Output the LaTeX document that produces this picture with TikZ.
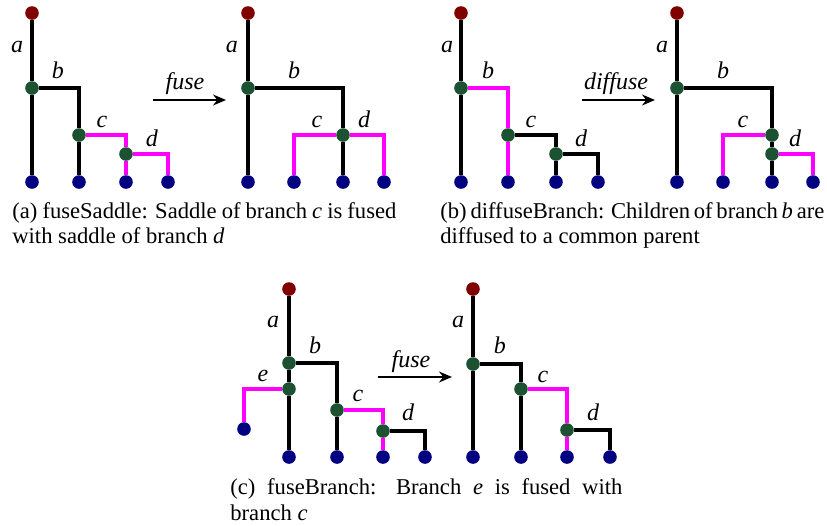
\documentclass[tikz,border=0pt]{standalone}
\usepackage{fontspec}
\setmainfont{Liberation Serif}
\usetikzlibrary{arrows.meta}
\definecolor{rootred}{RGB}{128,0,0}
\definecolor{saddlegreen}{RGB}{28,82,50}
\definecolor{leafblue}{RGB}{0,0,128}
\definecolor{hlpink}{RGB}{255,0,255}
\begin{document}
\begin{tikzpicture}[x=0.5pt,y=-0.5pt]
          \tikzstyle{every node}=[inner sep=0pt];
          \tikzstyle{root}=[shape=circle,fill=rootred,minimum size=6.8pt];
          \tikzstyle{saddle}=[shape=circle,fill=saddlegreen,minimum size=6.8pt];
          \tikzstyle{leaf}=[shape=circle,fill=leafblue,minimum size=6.8pt];
          \tikzstyle{arc}=[line width=1.6pt];
          \tikzstyle{hl}=[line width=1.6pt,hlpink];
          \tikzstyle{lbl}=[anchor=base,font=\fontsize{12}{14}\selectfont\itshape];
          \tikzstyle{op}=[-{Stealth[length=6.5pt,width=5.5pt]},line width=1pt];
          \tikzstyle{captxt}=[anchor=base west,font=\fontsize{11.3}{12.5}\selectfont];
          \useasboundingbox (0,0) rectangle (827,526);
          %(a) fuseSaddle, before
          \node[root] (ar) at (32,13) {};
          \node[saddle] (asb) at (32,88) {};
          \node[saddle] (asc) at (79,135) {};
          \node[saddle] (asd) at (126,154) {};
          \node[leaf] (al1) at (32,182) {};
          \node[leaf] (al2) at (79,182) {};
          \node[leaf] (al3) at (126,182) {};
          \node[leaf] (al4) at (168,182) {};
          \draw[arc] (ar)--(asb) (asb)--(al1) (asb)-|(asc) (asc)--(al2);
          \draw[hl] (asc)-|(asd) (asd)--(al3) (asd)-|(al4);
          \node[lbl] (aa) at (17,52) {a};
          \node[lbl] (ab) at (58,78) {b};
          \node[lbl] (ac) at (102,127) {c};
          \node[lbl] (ad) at (152,146) {d};
          % fuse
          \coordinate (af1) at (153,100);
          \coordinate (af2) at (226,100);
          \draw[op] (af1)--(af2);
          \node[lbl] (afuse) at (185,89) {fuse};
          %(a) after
          \node[root] (br) at (248,13) {};
          \node[saddle] (bsb) at (248,88) {};
          \node[saddle] (bsc) at (343,135) {};
          \node[leaf] (bl1) at (248,182) {};
          \node[leaf] (bl2) at (294,182) {};
          \node[leaf] (bl3) at (343,182) {};
          \node[leaf] (bl4) at (384,182) {};
          \draw[arc] (br)--(bsb) (bsb)--(bl1) (bsb)-|(bsc) (bsc)--(bl3);
          \draw[hl] (bl2)|-(bsc) (bsc)-|(bl4);
          \node[lbl] (ba) at (232,52) {a};
          \node[lbl] (bb) at (294,78) {b};
          \node[lbl] (bc) at (317,127) {c};
          \node[lbl] (bd) at (364,127) {d};
          \node[captxt] (capa1) at (12,218) {\makebox[192pt][s]{(a) fuseSaddle: Saddle of branch \textit{c} is fused}};
          \node[captxt] (capa2) at (12,243) {with saddle of branch \textit{d}};
          %(b) diffuseBranch, before
          \node[root] (cr) at (461,13) {};
          \node[saddle] (csb) at (461,88) {};
          \node[saddle] (csc) at (508,135) {};
          \node[saddle] (csd) at (556,154) {};
          \node[leaf] (cl1) at (461,182) {};
          \node[leaf] (cl2) at (508,182) {};
          \node[leaf] (cl3) at (556,182) {};
          \node[leaf] (cl4) at (598,182) {};
          \draw[arc] (cr)--(csb) (csb)--(cl1) (csc)-|(csd) (csd)--(cl3) (csd)-|(cl4);
          \draw[hl] (csb)-|(csc) (csc)--(cl2);
          \node[lbl] (ca) at (447,52) {a};
          \node[lbl] (cb) at (488,78) {b};
          \node[lbl] (cc) at (531,127) {c};
          \node[lbl] (cd) at (581,146) {d};
          % diffuse
          \coordinate (cf1) at (582,100);
          \coordinate (cf2) at (655,100);
          \draw[op] (cf1)--(cf2);
          \node[lbl] (cdiff) at (616,89) {diffuse};
          %(b) after
          \node[root] (dr) at (677,13) {};
          \node[saddle] (dsb) at (677,88) {};
          \node[saddle] (dsc) at (772,135) {};
          \node[saddle] (dsd) at (772,154) {};
          \node[leaf] (dl1) at (677,182) {};
          \node[leaf] (dl2) at (723,182) {};
          \node[leaf] (dl3) at (772,182) {};
          \node[leaf] (dl4) at (813,182) {};
          \draw[arc] (dr)--(dsb) (dsb)--(dl1) (dsb)-|(dsc) (dsc)--(dsd) (dsd)--(dl3);
          \draw[hl] (dsc)-|(dl2) (dsd)-|(dl4);
          \node[lbl] (da) at (662,52) {a};
          \node[lbl] (db) at (723,78) {b};
          \node[lbl] (dc) at (743,127) {c};
          \node[lbl] (dd) at (795,146) {d};
          \node[captxt] (capb1) at (440,218) {\makebox[188.5pt][s]{(b) diffuseBranch: Children of branch \textit{b} are}};
          \node[captxt] (capb2) at (440,243) {diffused to a common parent};
          %(c) fuseBranch, before
          \node[root] (er) at (289,289) {};
          \node[saddle] (esb) at (289,363) {};
          \node[saddle] (ese) at (289,389) {};
          \node[saddle] (esc) at (337,410) {};
          \node[saddle] (esd) at (383,431) {};
          \node[leaf] (ele) at (244,429) {};
          \node[leaf] (el1) at (289,457) {};
          \node[leaf] (el2) at (337,457) {};
          \node[leaf] (el3) at (383,457) {};
          \node[leaf] (el4) at (425,457) {};
          \draw[arc] (er)--(esb) (esb)--(ese) (ese)--(el1) (esb)-|(esc) (esc)--(el2) (esd)-|(el4);
          \draw[hl] (ese)-|(ele) (esc)-|(esd) (esd)--(el3);
          \node[lbl] (ea) at (273,327) {a};
          \node[lbl] (eb) at (315,353) {b};
          \node[lbl] (ee) at (263,381) {e};
          \node[lbl] (ec) at (358,401) {c};
          \node[lbl] (ed) at (408,420) {d};
          % fuse
          \coordinate (ef1) at (378,377);
          \coordinate (ef2) at (452,377);
          \draw[op] (ef1)--(ef2);
          \node[lbl] (efuse) at (411,367) {fuse};
          %(c) after
          \node[root] (fr) at (473,289) {};
          \node[saddle] (fsb) at (473,364) {};
          \node[saddle] (fsc) at (521,389) {};
          \node[saddle] (fsd) at (567,430) {};
          \node[leaf] (fl1) at (473,457) {};
          \node[leaf] (fl2) at (521,457) {};
          \node[leaf] (fl3) at (567,457) {};
          \node[leaf] (fl4) at (610,457) {};
          \draw[arc] (fr)--(fsb) (fsb)--(fl1) (fsb)-|(fsc) (fsc)--(fl2) (fsd)-|(fl4);
          \draw[hl] (fsc)-|(fsd) (fsd)--(fl3);
          \node[lbl] (fa) at (458,327) {a};
          \node[lbl] (fb) at (500,353) {b};
          \node[lbl] (fc) at (543,382) {c};
          \node[lbl] (fd) at (593,420) {d};
          \node[captxt] (capc1) at (230,494) {\makebox[196pt][s]{(c) fuseBranch: Branch \textit{e} is fused with}};
          \node[captxt] (capc2) at (230,520) {branch \textit{c}};
      \end{tikzpicture}
\end{document}
